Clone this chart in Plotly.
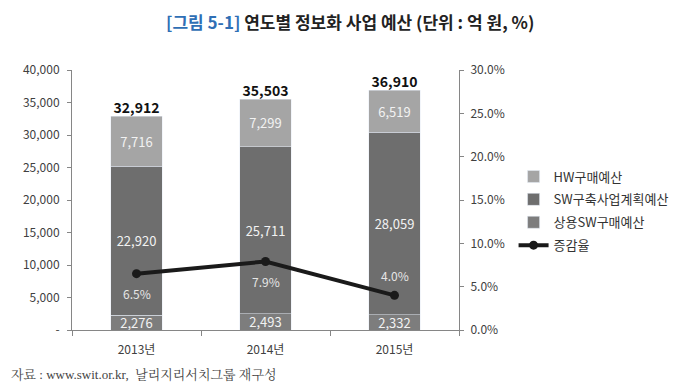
import plotly.graph_objects as go

years = ["2013년", "2014년", "2015년"]
commercial_sw = [2276, 2493, 2332]
sw_build = [22920, 25711, 28059]
hw = [7716, 7299, 6519]
totals = [32912, 35503, 36910]
growth = [6.5, 7.9, 4.0]
growth_label_pos = [-1, -1, 1]

left_ticks = [0, 5000, 10000, 15000, 20000, 25000, 30000, 35000, 40000]
left_ticktext = ["-"] + [f"{v:,}" for v in left_ticks[1:]]
right_ticks = [0, 5, 10, 15, 20, 25, 30]
right_ticktext = [f"{v:.1f}%" for v in right_ticks]

FONT = "Noto Sans CJK KR"
in_font = dict(family=FONT, size=13, color="#f2f2f2")

fig = go.Figure()
fig.add_trace(go.Bar(x=years, y=commercial_sw, name="상용SW구매예산", marker_color="#7d7d7d",
                     text=[f"{v:,}" for v in commercial_sw], textposition="inside",
                     insidetextanchor="middle", textfont=in_font, legendrank=3, width=0.4,
                     legendgroup="c"))
fig.add_trace(go.Bar(x=years, y=sw_build, name="SW구축사업계획예산", marker_color="#6e6e6e",
                     text=[f"{v:,}" for v in sw_build], textposition="inside",
                     insidetextanchor="middle", textfont=in_font, legendrank=2, width=0.4,
                     legendgroup="b"))
fig.add_trace(go.Bar(x=years, y=hw, name="HW구매예산", marker_color="#a5a5a5",
                     text=[f"{v:,}" for v in hw], textposition="inside",
                     insidetextanchor="middle", textfont=in_font, legendrank=1, width=0.4,
                     legendgroup="a"))
fig.add_trace(go.Scatter(x=years, y=totals, mode="text", text=[f"{v:,}" for v in totals],
                         textposition="top center", showlegend=False, cliponaxis=False,
                         textfont=dict(family=FONT, size=14, color="#111111", weight="bold")))
fig.add_trace(go.Scatter(x=years, y=growth, name="증감율", yaxis="y2", mode="lines+markers",
                         line=dict(color="#1a1a1a", width=4), marker=dict(size=9, color="#1a1a1a"),
                         legendrank=4, legendgroup="d"))

for x, g, p in zip(years, growth, growth_label_pos):
    fig.add_annotation(x=x, y=g, yref="y2", text=f"{g:.1f}%", showarrow=False,
                       yshift=20 * p, font=dict(family=FONT, size=12, color="#e6e6e6"))

fig.add_annotation(xref="paper", yref="paper", x=0.718, y=1.185, xanchor="center", yanchor="middle",
                   text="<span style='color:#2f6fb5'>[그림 5-1]</span> 연도별 정보화 사업 예산 (단위 : 억 원, %)",
                   showarrow=False, font=dict(family=FONT, size=17, color="#222222", weight="bold"))
fig.add_annotation(xref="paper", yref="paper", x=-0.164, y=-0.173, xanchor="left", yanchor="middle",
                   text="자료 : www.swit.or.kr,  날리지리서치그룹 재구성", showarrow=False,
                   font=dict(family="Liberation Serif, Noto Serif CJK KR, Noto Sans CJK KR", size=13, color="#444444"))

axis_font = dict(family=FONT, size=12, color="#404040")
fig.update_layout(
    width=677, height=390,
    margin=dict(l=64, r=223, t=62, b=68),
    plot_bgcolor="white", paper_bgcolor="white",
    barmode="stack", bargap=0.6,
    uniformtext=dict(minsize=13, mode="show"),
    xaxis=dict(showline=True, linecolor="#868686", ticks="outside", tickson="boundaries",
               ticklen=5, tickcolor="#868686", tickfont=axis_font, showgrid=False,
               ticklabelstandoff=9),
    yaxis=dict(range=[0, 40000], tickvals=left_ticks, ticktext=left_ticktext, showline=True,
               linecolor="#868686", ticks="outside", ticklen=4, tickcolor="#868686",
               tickfont=axis_font, showgrid=False, zeroline=False, ticklabelstandoff=5),
    yaxis2=dict(range=[0, 30], tickvals=right_ticks, ticktext=right_ticktext, overlaying="y",
                side="right", showline=True, linecolor="#868686", ticks="outside", ticklen=4,
                tickcolor="#868686", tickfont=axis_font, showgrid=False, zeroline=False,
                ticklabelstandoff=4),
    legend=dict(x=1.141, y=0.648, xanchor="left", yanchor="top",
                font=dict(family=FONT, size=13, color="#333333"),
                traceorder="grouped", tracegroupgap=3, itemwidth=30, bgcolor="rgba(0,0,0,0)"),
    showlegend=True,
)

fig.write_html("out.html")
